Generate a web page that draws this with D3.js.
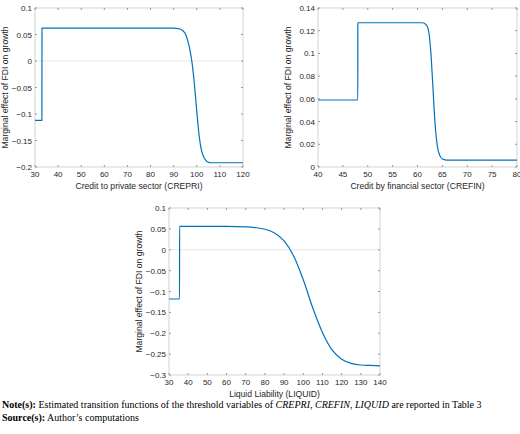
<!DOCTYPE html>
<html><head><meta charset="utf-8">
<script src="https://cdn.jsdelivr.net/npm/d3@7"></script>
<style>body{margin:0;background:#fff}</style></head>
<body><svg id="c" width="520" height="434"></svg>
<script>
// chart 1: CREPRI
const crepriX = [30, 33, 33.02, 90, 92, 93, 94, 95, 96, 97, 98, 99, 100, 101, 102, 103, 104, 105, 106, 108, 120]
const crepriY = [-0.112, -0.112, 0.062, 0.062, 0.061, 0.060, 0.057, 0.052, 0.040, 0.022, -0.005, -0.045, -0.095, -0.140, -0.168, -0.181, -0.188, -0.191, -0.192, -0.192, -0.192]
// chart 2: CREFIN
const crefinX = [40, 48, 48.01, 61, 61.8, 62.3, 62.7, 63.1, 63.5, 64, 64.5, 65, 66, 80]
const crefinY = [0.059, 0.059, 0.127, 0.127, 0.125, 0.118, 0.100, 0.070, 0.040, 0.018, 0.010, 0.007, 0.006, 0.006]
// chart 3: LIQUID
const liquidX = [30, 35.5, 35.52, 60, 70, 75, 80, 85, 90, 95, 100, 105, 110, 115, 120, 125, 130, 135, 140]
const liquidY = [-0.118, -0.118, 0.056, 0.056, 0.055, 0.053, 0.049, 0.040, 0.021, -0.015, -0.072, -0.140, -0.198, -0.240, -0.262, -0.272, -0.276, -0.277, -0.278]

const charts = [
  { xs: crepriX, ys: crepriY, x: [30, 120], xt: d3.range(30, 121, 10), y: [-0.2, 0.1], yt: [-0.2, -0.15, -0.1, -0.05, 0, 0.05, 0.1], box: [35, 8, 243, 167], title: "Credit to private sector (CREPRI)" },
  { xs: crefinX, ys: crefinY, x: [40, 80], xt: d3.range(40, 81, 5), y: [0, 0.14], yt: [0, 0.02, 0.04, 0.06, 0.08, 0.1, 0.12, 0.14], box: [318, 8, 517, 167], title: "Credit by financial sector (CREFIN)" },
  { xs: liquidX, ys: liquidY, x: [30, 140], xt: d3.range(30, 141, 10), y: [-0.3, 0.1], yt: [-0.3, -0.25, -0.2, -0.15, -0.1, -0.05, 0, 0.05, 0.1], box: [169, 208, 380, 375], title: "Liquid Liability (LIQUID)" }
]

const svg = d3.select("#c")
const fmt = v => (v < 0 ? "\u2212" : "") + d3.format("~g")(Math.abs(+v.toFixed(3)))

charts.forEach(c => {
  const [x0, y0, x1, y1] = c.box
  const x = d3.scaleLinear().domain(c.x).range([x0, x1])
  const y = d3.scaleLinear().domain(c.y).range([y1, y0])
  const g = svg.append("g").attr("font-family", "Liberation Sans, Arial").attr("font-size", 8).attr("fill", "#262626")

  // zero line
  if (c.y[0] < 0) g.append("line").attr("x1", x0).attr("x2", x1).attr("y1", y(0)).attr("y2", y(0)).attr("stroke", "#d9d9d9").attr("stroke-width", 0.6)

  g.append("rect").attr("x", x0).attr("y", y0).attr("width", x1 - x0).attr("height", y1 - y0)
    .attr("fill", "none").attr("stroke", "#bfbfbf").attr("stroke-width", 0.7)

  c.xt.forEach(t => {
    g.append("line").attr("x1", x(t)).attr("x2", x(t)).attr("y1", y1).attr("y2", y1 - 2).attr("stroke", "#999")
    g.append("line").attr("x1", x(t)).attr("x2", x(t)).attr("y1", y0).attr("y2", y0 + 2).attr("stroke", "#999")
    g.append("text").attr("x", x(t)).attr("y", y1 + 9.5).attr("text-anchor", "middle").attr("fill", "#262626").text(t)
  })
  c.yt.forEach(t => {
    g.append("line").attr("x1", x0).attr("x2", x0 + 2).attr("y1", y(t)).attr("y2", y(t)).attr("stroke", "#999")
    g.append("line").attr("x1", x1).attr("x2", x1 - 2).attr("y1", y(t)).attr("y2", y(t)).attr("stroke", "#999")
    g.append("text").attr("x", x0 - 3).attr("y", y(t) + 3).attr("text-anchor", "end").attr("fill", "#262626").text(fmt(t))
  })
  g.append("text").attr("x", (x0 + x1) / 2).attr("y", y1 + 22).attr("text-anchor", "middle").attr("font-size", 8.6).attr("fill", "#262626").text(c.title)
  g.append("text").attr("transform", `translate(${x0 - 27},${(y0 + y1) / 2}) rotate(-90)`).attr("text-anchor", "middle").attr("font-size", 8.6).attr("fill", "#262626").text("Marginal effect of FDI on growth")

  const pts = c.xs.map((v, i) => [v, c.ys[i]])
  g.append("path").datum(pts).attr("d", d3.line().x(d => x(d[0])).y(d => y(d[1])).curve(d3.curveMonotoneX))
    .attr("fill", "none").attr("stroke", "#0072bd").attr("stroke-width", 1.2).attr("stroke-linejoin", "round")
})

const note = svg.append("g").attr("font-family", "Liberation Serif, Times New Roman").attr("font-size", 10).attr("fill", "#000")
const n1 = note.append("text").attr("x", 2).attr("y", 408)
n1.append("tspan").attr("font-weight", "bold").text("Note(s):")
n1.append("tspan").text(" Estimated transition functions of the threshold variables of ")
n1.append("tspan").attr("font-style", "italic").text("CREPRI, CREFIN, LIQUID")
n1.append("tspan").text(" are reported in Table 3")
const n2 = note.append("text").attr("x", 2).attr("y", 421)
n2.append("tspan").attr("font-weight", "bold").text("Source(s):")
n2.append("tspan").text(" Author\u2019s computations")
</script></body></html>
